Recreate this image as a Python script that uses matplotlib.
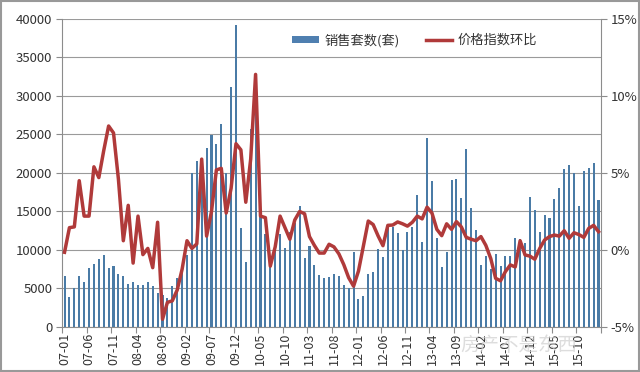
import matplotlib
matplotlib.use('Agg')
import matplotlib.pyplot as plt
from matplotlib.lines import Line2D
from matplotlib.patches import Patch, Rectangle
import numpy as np

plt.rcParams['font.family'] = ['Noto Sans CJK SC', 'DejaVu Sans']

# monthly sales (units), 2007-01 .. 2016-02
sales = [6600, 3900, 5000, 6600, 5900, 7700, 8200, 8800, 9400, 7600,
         7900, 6900, 6600, 5600, 5900, 5500, 5400, 5900, 5300, 4400,
         4100, 3700, 5300, 6300, 7300, 9300, 20000, 21500, 20500, 23200,
         24900, 23800, 26400, 20000, 31200, 39200, 12800, 8500, 25700, 30300,
         14500, 12100, 8200, 9900, 12100, 10200, 12300, 13500, 15700, 8900,
         10500, 8100, 6800, 6300, 6500, 6900, 6600, 5500, 5000, 9700,
         3600, 4000, 6900, 7200, 10100, 9100, 12800, 13000, 12200, 10000,
         12400, 13000, 17100, 11100, 24500, 18900, 11500, 7800, 9800, 19100,
         19200, 16800, 23100, 15400, 12600, 8000, 9200, 7500, 9500, 7900,
         9200, 9200, 11600, 11400, 10900, 16900, 15200, 12400, 14500, 14200,
         16600, 18000, 20500, 21000, 20000, 15700, 20200, 20600, 21300, 16500]

# price index month-on-month change (%)
price_mom = [-0.15, 1.45, 1.5, 4.5, 2.2, 2.2, 5.4, 4.7, 6.45, 8.05,
             7.6, 4.6, 0.6, 2.9, -0.85, 2.2, -0.3, 0.1, -1.15, 1.8,
             -4.5, -3.4, -3.3, -2.6, -1.25, 0.6, 0.1, 0.4, 5.9, 0.9,
             2.5, 5.2, 5.3, 2.4, 4.0, 6.9, 6.5, 3.1, 5.9, 11.4,
             2.2, 2.1, -1.05, 0.2, 2.2, 1.45, 0.7, 1.95, 2.5, 2.35,
             0.87, 0.3, -0.2, -0.2, 0.37, 0.2, -0.25, -0.95, -1.8, -2.35,
             -1.37, 0.25, 1.88, 1.65, 0.92, 0.28, 1.6, 1.62, 1.82, 1.7,
             1.55, 1.8, 2.2, 2.02, 2.78, 2.4, 1.34, 0.93, 1.7, 1.34,
             1.84, 1.5, 0.82, 0.7, 0.6, 0.87, 0.3, -0.55, -1.84, -2.0,
             -1.4, -0.97, -1.1, 0.6, -0.32, -0.4, -0.6, 0.1, 0.65, 0.87,
             0.97, 0.9, 1.25, 0.76, 1.12, 1.0, 0.82, 1.4, 1.6, 1.19]

tick_labels = ['07-01', '07-06', '07-11', '08-04', '08-09', '09-02', '09-07',
               '09-12', '10-05', '10-10', '11-03', '11-08', '12-01', '12-06',
               '12-11', '13-04', '13-09', '14-02', '14-07', '14-12', '15-05',
               '15-10']

bar_color = '#4a7ba6'
line_color = '#b03a3a'
axis_color = '#8c8c8c'
text_color = '#333333'

x = np.arange(len(sales))

fig = plt.figure(figsize=(6.4, 3.72), dpi=100)
ax = fig.add_axes([0.097, 0.121, 0.842, 0.828])

ax.bar(x, sales, width=0.42, color=bar_color, zorder=2)
ax.set_xlim(-0.5, len(sales) - 0.5)
ax.set_ylim(0, 40000)
ax.set_yticks(np.arange(0, 40001, 5000))
ax.grid(axis='y', color='#9a9a9a', linewidth=0.8, zorder=0)
ax.set_axisbelow(True)

# tick marks at category boundaries, labels at the category
ax.set_xticks(np.arange(0, len(sales) + 1, 5) - 0.5)
ax.set_xticklabels([])
ax.set_xticks(np.arange(0, 5 * len(tick_labels), 5), tick_labels, minor=True)
ax.tick_params(axis='x', which='major', length=4, color=axis_color, direction='out')
ax.tick_params(axis='x', which='minor', length=0, rotation=90, pad=4,
               labelsize=9, labelcolor=text_color)
ax.tick_params(axis='y', length=4, color=axis_color, labelsize=9.5,
               labelcolor=text_color, pad=3)

for s in ['top', 'right']:
    ax.spines[s].set_visible(False)
for s in ['left', 'bottom']:
    ax.spines[s].set_color(axis_color)

ax2 = ax.twinx()
ax2.plot(x, price_mom, color=line_color, linewidth=2.5, zorder=3,
         solid_joinstyle='round')
ax2.set_ylim(-5, 15)
ax2.set_yticks([-5, 0, 5, 10, 15])
ax2.set_yticklabels(['-5%', '0%', '5%', '10%', '15%'])
ax2.tick_params(axis='y', length=4, color=axis_color, labelsize=9.5,
                labelcolor=text_color, pad=3)
for s in ['top', 'left', 'bottom']:
    ax2.spines[s].set_visible(False)
ax2.spines['right'].set_color(axis_color)

handles = [Patch(facecolor='#4f7fb0', edgecolor='none'),
           Line2D([0], [0], color=line_color, linewidth=2.5)]
fig.legend(handles, ['销售套数(套)', '价格指数环比'], loc='center',
           bbox_to_anchor=(0.648, 0.892), ncol=2, frameon=False,
           fontsize=9.5, handlelength=2.0, handleheight=0.5,
           handletextpad=0.4, columnspacing=2.0, labelcolor=text_color)

# watermark (sits over the bottom tick labels, as in the source image)
fig.text(0.72, 0.07, '房产不是东西', fontsize=14, color='#cfcfcf',
         alpha=0.7, ha='left', va='center', zorder=0)

fig.patches.append(Rectangle((0.002, 0.003), 0.996, 0.994,
                             transform=fig.transFigure, fill=False,
                             edgecolor='#999999', linewidth=1.5))

fig.savefig('out.png', dpi=100)
